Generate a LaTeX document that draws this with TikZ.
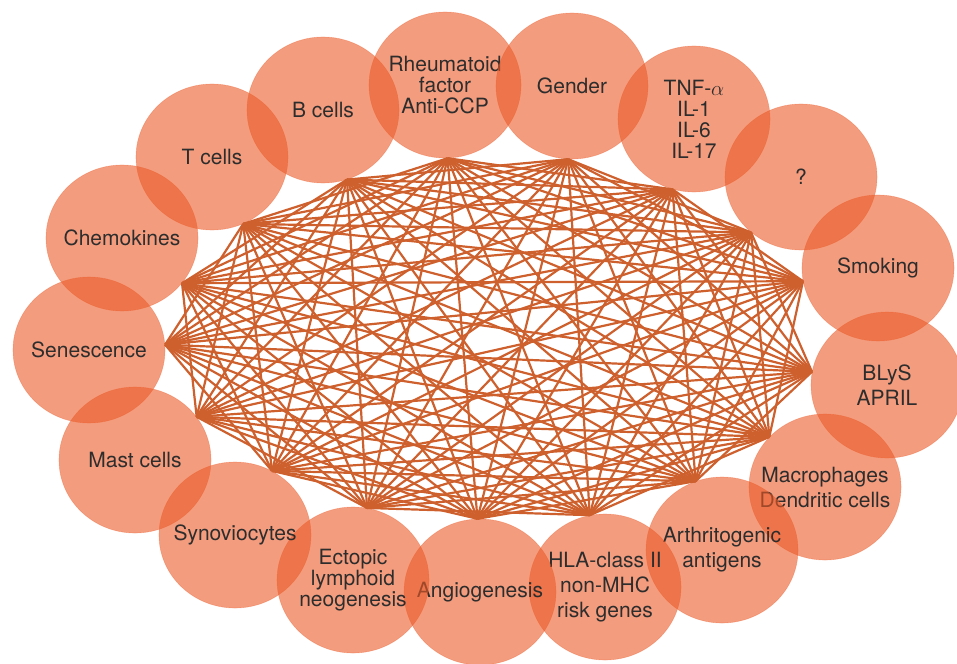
\documentclass[tikz,border=0pt]{standalone}
\usepackage{fontspec}
\setmainfont{TeX Gyre Heros}
\usetikzlibrary{shapes.geometric}

\definecolor{rafill}{RGB}{235,90,40}
\definecolor{raline}{RGB}{206,96,46}
\definecolor{ratext}{RGB}{45,45,45}

\tikzset{
  factor/.style={ellipse, fill=rafill, fill opacity=0.6, draw=rafill, draw opacity=0.35, line width=0.6pt, text opacity=1, text=ratext, minimum width=152pt, minimum height=146pt, inner sep=-15pt, align=center, font=\fontsize{21}{21}\selectfont},
  loose/.style={font=\fontsize{21}{25}\selectfont},
  link/.style={draw=raline, line width=2.2pt}
}

\begin{document}
\begin{tikzpicture}[x=1pt,y=-1pt]

\useasboundingbox (0,0) rectangle (957,663);

\node (rf) [factor] at (445,85) {Rheumatoid\\factor\\Anti-CCP};
\node (gender) [factor] at (572,86) {Gender};
\node (tnf) [factor] at (694,119) {TNF-$\alpha$\\IL-1\\IL-6\\IL-17};
\node (unknown) [factor] at (801,177) {?};
\node (smoking) [factor] at (878,268) {Smoking};
\node (blys) [factor, loose] at (887,385) {BLyS\\APRIL};
\node (macro) [factor, loose] at (825,487) {Macrophages\\Dendritic cells};
\node (arth) [factor, loose] at (722,550) {Arthritogenic\\antigens};
\node (hla) [factor, loose] at (605,587) {HLA-class II\\non-MHC\\risk genes};
\node (angio) [factor] at (480,592) {Angiogenesis};
\node (ectopic) [factor] at (353,580) {Ectopic\\lymphoid\\neogenesis};
\node (syno) [factor] at (235,535) {Synoviocytes};
\node (mast) [factor] at (135,460) {Mast cells};
\node (senes) [factor] at (89,350) {Senescence};
\node (chemo) [factor] at (122,238) {Chemokines};
\node (tcells) [factor] at (212,157) {T cells};
\node (bcells) [factor] at (323,110) {B cells};

% every factor is linked with all but its two neighbours
\foreach \a [count=\i] in {rf.-88, gender.-93, tnf.-107, unknown.-132, smoking.-170, blys.170, macro.138, arth.111, hla.102, angio.92, ectopic.79, syno.60, mast.35, senes.4, chemo.-37, tcells.-65, bcells.-71}
  \foreach \b [count=\j] in {rf.-88, gender.-93, tnf.-107, unknown.-132, smoking.-170, blys.170, macro.138, arth.111, hla.102, angio.92, ectopic.79, syno.60, mast.35, senes.4, chemo.-37, tcells.-65, bcells.-71}
    {\ifnum\j>\numexpr\i+1\relax \ifnum\numexpr\j-\i\relax<16 \draw[link] (\a) -- (\b); \fi\fi}

\end{tikzpicture}
\end{document}
